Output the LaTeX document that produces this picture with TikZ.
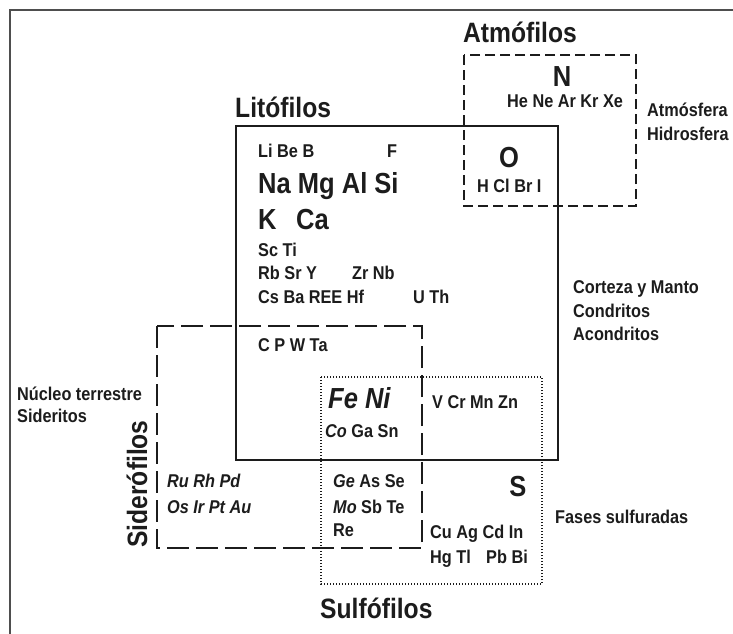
\documentclass[tikz,border=0pt]{standalone}
\usepackage{fontspec}
\setmainfont{Liberation Sans}[FakeStretch=0.88]
\usetikzlibrary{positioning}
\definecolor{ink}{HTML}{1C1C1C}
\definecolor{framegray}{HTML}{4E4E4E}

\begin{document}
\begin{tikzpicture}[x=1pt,y=-1pt,
  frame/.style={draw=framegray,line width=2.4pt},
  lito/.style={draw=ink,line width=2.3pt},
  atmo/.style={draw=ink,line width=2.2pt,dash pattern=on 10pt off 5pt},
  sidero/.style={draw=ink,line width=2pt,dash pattern=on 22pt off 7pt},
  sulfo/.style={draw=ink,line width=1.8pt,dash pattern=on 1.4pt off 1.6pt},
  el/.style={anchor=base west,inner sep=0pt,text=ink,font=\fontsize{18.5}{20}\selectfont\bfseries},
  big/.style={el,font=\fontsize{29}{31}\selectfont\bfseries},
  grp/.style={anchor=base west,inner sep=0pt,text=ink,font=\fontsize{28}{30}\selectfont\bfseries},
  env/.style={el}]
\useasboundingbox (0,0) rectangle (733,633);
\fill[white] (0,0) rectangle (733,633);
\draw[frame] (10,640) -- (10,10) -- (740,10);

% the four groups
\draw[lito] (236,126) rectangle (558,460);
\draw[atmo] (464,55) rectangle (636,206);
\draw[sidero] (157,326) rectangle (422,548);
\draw[sulfo] (321,377) rectangle (542,584);

\node[grp] (atmofilos) at (463,42) {Atmófilos};
\node[grp] (litofilos) at (235,117) {Litófilos};
\node[grp,rotate=90,anchor=base] (siderofilos) at (147,484) {Siderófilos};
\node[grp] (sulfofilos) at (320,618) {Sulfófilos};

% lithophile elements
\node[el] (libeb) at (258,157) {Li Be B};
\node[el] (fluor) at (387,157) {F};
\node[big] (namg) at (258,193) {Na Mg Al Si};
\node[big] (kalium) at (258,229) {K};
\node[big] (calcium) at (296,229) {Ca};
\node[el] (scti) at (258,256) {Sc Ti};
\node[el] (rbsry) at (258,279) {Rb Sr Y};
\node[el] (zrnb) at (352,279) {Zr Nb};
\node[el] (csba) at (258,303) {Cs Ba REE Hf};
\node[el] (uth) at (413,303) {U Th};
\node[el] (cpw) at (258,351) {C P W Ta};

% atmophile elements
\node[big,anchor=base] (nitro) at (562,86) {N};
\node[el] (noble) at (507,107) {He Ne Ar Kr Xe};
\node[big,anchor=base] (oxy) at (509,167) {O};
\node[el] (halo) at (477,192) {H Cl Br I};

% siderophile and chalcophile elements
\node[big] (feni) at (328,408) {\itshape Fe Ni};
\node[el] (coga) at (325,437) {\textit{Co} Ga Sn};
\node[el] (vcr) at (432,408) {V Cr Mn Zn};
\node[el] (rurh) at (167,487) {\itshape Ru Rh Pd};
\node[el] (osir) at (167,513) {\itshape Os Ir Pt Au};
\node[el] (geas) at (333,487) {\textit{Ge} As Se};
\node[el] (mosb) at (333,513) {\textit{Mo} Sb Te};
\node[el] (rhen) at (333,536) {Re};
\node[big,anchor=base] (sulf) at (518,496) {S};
\node[el] (cuag) at (430,538) {Cu Ag Cd In};
\node[el] (hgtl) at (430,563) {Hg Tl};
\node[el] (pbbi) at (486,563) {Pb Bi};

% where they are found
\node[env] (atmosfera) at (647,116) {Atmósfera};
\node[env] (hidrosfera) at (647,140) {Hidrosfera};
\node[env] (corteza) at (573,293) {Corteza y Manto};
\node[env] (condritos) at (573,317) {Condritos};
\node[env] (acondritos) at (573,340) {Acondritos};
\node[env] (nucleo) at (17,400) {Núcleo terrestre};
\node[env] (sideritos) at (17,422) {Sideritos};
\node[env] (fases) at (555,523) {Fases sulfuradas};
\end{tikzpicture}
\end{document}
